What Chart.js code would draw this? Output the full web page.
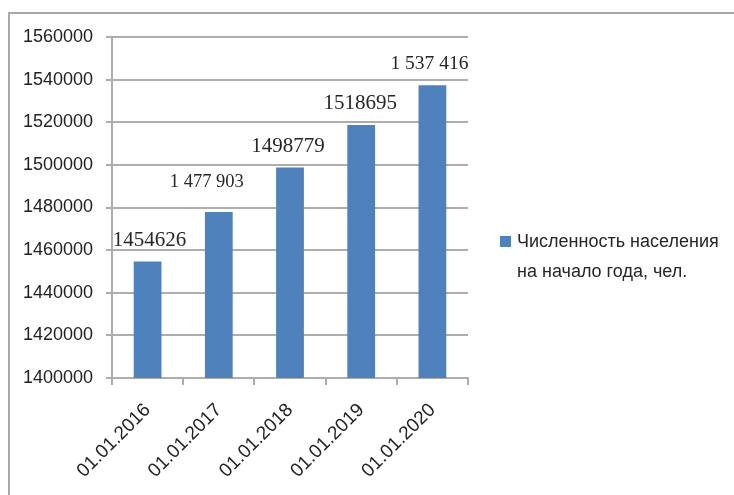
<!DOCTYPE html>
<html>
<head>
<meta charset="utf-8">
<script src="https://cdn.jsdelivr.net/npm/chart.js@4"></script>
<style>
    body { margin: 0; background: #fff; }
    #marco { position: relative; width: 734px; height: 495px; overflow: hidden; }
    #borde { position: absolute; left: 8px; top: 12px; width: 800px; height: 600px;
             border-top: 2px solid #a8a8a8; border-left: 2px solid #a8a8a8; }
    #grafico { position: absolute; left: 0; top: 0; }
</style>
</head>
<body>
<div id="marco">
    <div id="borde"></div>
    <canvas id="grafico" width="734" height="495"></canvas>
</div>
<script>
const fechas = ['01.01.2016', '01.01.2017', '01.01.2018', '01.01.2019', '01.01.2020'];
const poblacion = [1454626, 1477903, 1498779, 1518695, 1537416];
const etiquetas = ['1454626', '1 477 903', '1498779', '1518695', '1 537 416'];
const leyenda = ['Численность населения', 'на начало года, чел.'];

// desplazamiento y tamaño de cada etiqueta respecto a la cima de su barra
const desplazamientos = [[2, 21], [-12, 30], [-2, 21], [-1, 22], [-3, 21]];
const tamanos = [21, 18.5, 21, 21, 19.5];

const azul = '#4f81bd';

const etiquetasPlugin = {
    id: 'etiquetas',
    afterDatasetsDraw(chart) {
        const ctx = chart.ctx;
        const meta = chart.getDatasetMeta(0);
        ctx.save();
        ctx.fillStyle = '#262626';
        ctx.textAlign = 'center';
        ctx.textBaseline = 'middle';
        meta.data.forEach((bar, i) => {
            const [dx, dy] = desplazamientos[i];
            ctx.font = tamanos[i] + 'px "Liberation Serif"';
            ctx.fillText(etiquetas[i], bar.x + dx, bar.y - dy);
        });
        ctx.restore();
    }
};

const leyendaPlugin = {
    id: 'leyenda',
    afterDraw(chart) {
        const ctx = chart.ctx;
        ctx.save();
        ctx.fillStyle = azul;
        ctx.fillRect(500, 236, 11, 11);
        ctx.font = '18px "Liberation Sans"';
        ctx.fillStyle = '#262626';
        ctx.textBaseline = 'middle';
        ctx.fillText(leyenda[0], 517, 242);
        ctx.fillText(leyenda[1], 517, 272);
        ctx.restore();
    }
};

const ctx = document.getElementById('grafico').getContext('2d');
const grafico = new Chart(ctx, {
    type: 'bar',
    data: {
        labels: fechas,
        datasets: [{
            label: leyenda.join(' '),
            data: poblacion,
            backgroundColor: azul,
            categoryPercentage: 1,
            barPercentage: 0.39
        }]
    },
    options: {
        responsive: false,
        animation: false,
        layout: { padding: { left: 0, top: 37, right: 266, bottom: 0 } },
        plugins: {
            legend: { display: false },
            tooltip: { enabled: false }
        },
        scales: {
            y: {
                min: 1400000,
                max: 1560000,
                afterFit: (scale) => { scale.width = 112; },
                ticks: {
                    stepSize: 20000,
                    padding: 13,
                    color: '#222',
                    font: { family: 'Liberation Sans', size: 18 },
                    callback: (v) => String(v)
                },
                grid: { color: '#adadad', lineWidth: 2, tickLength: 6 },
                border: { color: '#adadad', width: 2 }
            },
            x: {
                afterFit: (scale) => { scale.height = 117; },
                ticks: {
                    minRotation: 45,
                    maxRotation: 45,
                    padding: 14,
                    color: '#222',
                    font: { family: 'Liberation Sans', size: 19 }
                },
                grid: { drawOnChartArea: false, color: '#adadad', lineWidth: 2, tickLength: 7 },
                border: { color: '#adadad', width: 2 }
            }
        }
    },
    plugins: [etiquetasPlugin, leyendaPlugin]
});
</script>
</body>
</html>
